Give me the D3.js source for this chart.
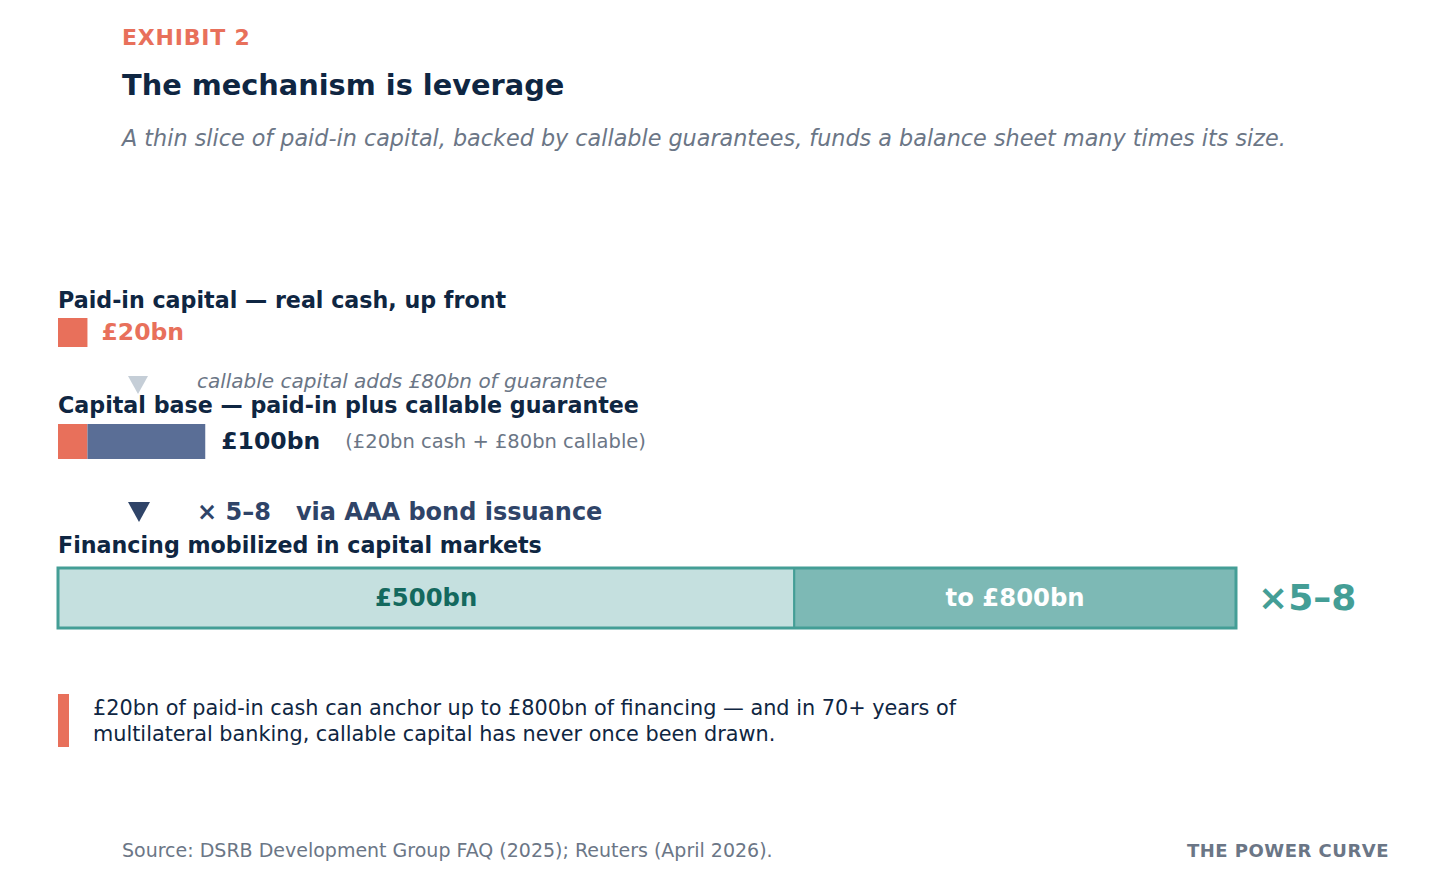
<!DOCTYPE html>
<html>
<head>
<meta charset="utf-8">
<script src="https://cdn.jsdelivr.net/npm/d3@7/dist/d3.min.js"></script>
<style>
  html, body { margin: 0; padding: 0; background: #ffffff; }
  svg { display: block; font-family: "DejaVu Sans", sans-serif; }
</style>
</head>
<body>
<div id="viz"></div>
<script>
// stage labels, top to bottom
const stageLabels = [
  'Paid-in capital — real cash, up front',
  'Capital base — paid-in plus callable guarantee',
  'Financing mobilized in capital markets'
];

// values in £bn
const paidIn = [20];
const capitalBase = [
  { name: 'paid-in', value: 20 },
  { name: 'callable', value: 80 }
];
const financing = [
  { name: 'low', value: 500, label: '£500bn' },
  { name: 'high', value: 800, label: 'to £800bn' }
];

const valueLabels = ['£20bn', '£100bn', '(£20bn cash + £80bn callable)'];
const stepNotes = ['callable capital adds £80bn of guarantee', '× 5–8   via AAA bond issuance'];
const multiplierLabel = '×5–8';

const colors = {
  coral: '#e8705b',
  navy: '#0f2642',
  slate: '#5a6e96',
  gray: '#6b7686',
  lightTri: '#c5ced7',
  stepText: '#2f4468',
  tealLight: '#c5e0df',
  tealMid: '#7db9b5',
  tealLine: '#449e96',
  tealText: '#14695e'
};

const width = 1440;
const height = 896;

const svg = d3.select('#viz').append('svg')
  .attr('width', width)
  .attr('height', height)
  .attr('viewBox', `0 0 ${width} ${height}`);

// one scale for all bars
const x = d3.scaleLinear()
  .domain([0, 800])
  .range([58, 1236]);

// header
svg.append('text')
  .attr('x', 122).attr('y', 45)
  .attr('fill', colors.coral)
  .style('font-size', '22px').style('font-weight', 'bold')
  .style('letter-spacing', '0.8px')
  .text('EXHIBIT 2');

svg.append('text')
  .attr('x', 122).attr('y', 95)
  .attr('fill', colors.navy)
  .style('font-size', '28.8px').style('font-weight', 'bold')
  .text('The mechanism is leverage');

svg.append('text')
  .attr('x', 122).attr('y', 146)
  .attr('fill', colors.gray)
  .style('font-size', '22.3px').style('font-style', 'italic')
  .text('A thin slice of paid-in capital, backed by callable guarantees, funds a balance sheet many times its size.');

// stage labels
const labelY = [308, 413, 553];
svg.selectAll('text.stage')
  .data(stageLabels)
  .join('text')
  .attr('class', 'stage')
  .attr('x', 58)
  .attr('y', (d, i) => labelY[i])
  .attr('fill', colors.navy)
  .style('font-size', '22.2px').style('font-weight', 'bold')
  .text(d => d);

// stage 1: paid-in
svg.selectAll('rect.paid')
  .data(paidIn)
  .join('rect')
  .attr('class', 'paid')
  .attr('x', x(0))
  .attr('y', 318)
  .attr('width', d => x(d) - x(0))
  .attr('height', 29)
  .attr('fill', colors.coral);

svg.append('text')
  .attr('x', x(paidIn[0]) + 14).attr('y', 340)
  .attr('fill', colors.coral)
  .style('font-size', '23.5px').style('font-weight', 'bold')
  .text(valueLabels[0]);

// step arrow 1
svg.append('path')
  .attr('d', 'M128,376 L148,376 L138,394 Z')
  .attr('fill', colors.lightTri);
svg.append('text')
  .attr('x', 197).attr('y', 388)
  .attr('fill', colors.gray)
  .style('font-size', '20px').style('font-style', 'italic')
  .text(stepNotes[0]);

// stage 2: capital base (stacked)
let acc = 0;
const stacked = capitalBase.map(d => {
  const s = { ...d, x0: acc, x1: acc + d.value };
  acc += d.value;
  return s;
});
svg.selectAll('rect.base')
  .data(stacked)
  .join('rect')
  .attr('class', 'base')
  .attr('x', d => x(d.x0))
  .attr('y', 424)
  .attr('width', d => x(d.x1) - x(d.x0))
  .attr('height', 35)
  .attr('fill', (d, i) => i === 0 ? colors.coral : colors.slate);

const baseEnd = x(acc);
svg.append('text')
  .attr('x', baseEnd + 16).attr('y', 449)
  .attr('fill', colors.navy)
  .style('font-size', '23.5px').style('font-weight', 'bold')
  .text(valueLabels[1]);
svg.append('text')
  .attr('x', baseEnd + 140).attr('y', 448)
  .attr('fill', colors.gray)
  .style('font-size', '19.5px')
  .text(valueLabels[2]);

// step arrow 2
svg.append('path')
  .attr('d', 'M128,502 L150,502 L139,522 Z')
  .attr('fill', colors.stepText);
svg.append('text')
  .attr('x', 197).attr('y', 520)
  .attr('fill', colors.stepText)
  .style('font-size', '24px').style('font-weight', 'bold')
  .style('white-space', 'pre')
  .attr('xml:space', 'preserve')
  .text(stepNotes[1]);

// stage 3: financing range
const finY = 568, finH = 60;
const finSegs = financing.map((d, i) => ({
  ...d,
  x0: i === 0 ? 0 : financing[i - 1].value,
  x1: d.value
}));
svg.selectAll('rect.fin')
  .data(finSegs)
  .join('rect')
  .attr('class', 'fin')
  .attr('x', d => x(d.x0))
  .attr('y', finY)
  .attr('width', d => x(d.x1) - x(d.x0))
  .attr('height', finH)
  .attr('fill', (d, i) => i === 0 ? colors.tealLight : colors.tealMid)
  .attr('stroke', colors.tealLine)
  .attr('stroke-width', 2);

svg.append('rect')
  .attr('x', x(0)).attr('y', finY)
  .attr('width', x(800) - x(0)).attr('height', finH)
  .attr('fill', 'none')
  .attr('stroke', colors.tealLine)
  .attr('stroke-width', 3);

svg.selectAll('text.fin')
  .data(finSegs)
  .join('text')
  .attr('class', 'fin')
  .attr('x', d => (x(d.x0) + x(d.x1)) / 2)
  .attr('y', 606)
  .attr('text-anchor', 'middle')
  .attr('fill', (d, i) => i === 0 ? colors.tealText : '#ffffff')
  .style('font-size', '24.3px').style('font-weight', 'bold')
  .text(d => d.label);

svg.append('text')
  .attr('x', x(800) + 22).attr('y', 610)
  .attr('fill', colors.tealLine)
  .style('font-size', '36px').style('font-weight', 'bold')
  .text(multiplierLabel);

// callout
svg.append('rect')
  .attr('x', 58).attr('y', 694)
  .attr('width', 11).attr('height', 53)
  .attr('fill', colors.coral);

const callout = svg.append('text')
  .attr('x', 93).attr('y', 715)
  .attr('fill', colors.navy)
  .style('font-size', '20.8px');
callout.append('tspan').attr('x', 93).attr('dy', 0)
  .text('£20bn of paid-in cash can anchor up to £800bn of financing — and in 70+ years of');
callout.append('tspan').attr('x', 93).attr('dy', 26)
  .text('multilateral banking, callable capital has never once been drawn.');

// footer
svg.append('text')
  .attr('x', 122).attr('y', 857)
  .attr('fill', colors.gray)
  .style('font-size', '19px')
  .text('Source: DSRB Development Group FAQ (2025); Reuters (April 2026).');

svg.append('text')
  .attr('x', 1389).attr('y', 857)
  .attr('text-anchor', 'end')
  .attr('fill', colors.gray)
  .style('font-size', '18px').style('font-weight', 'bold')
  .style('letter-spacing', '0.5px')
  .text('THE POWER CURVE');
</script>
</body>
</html>
